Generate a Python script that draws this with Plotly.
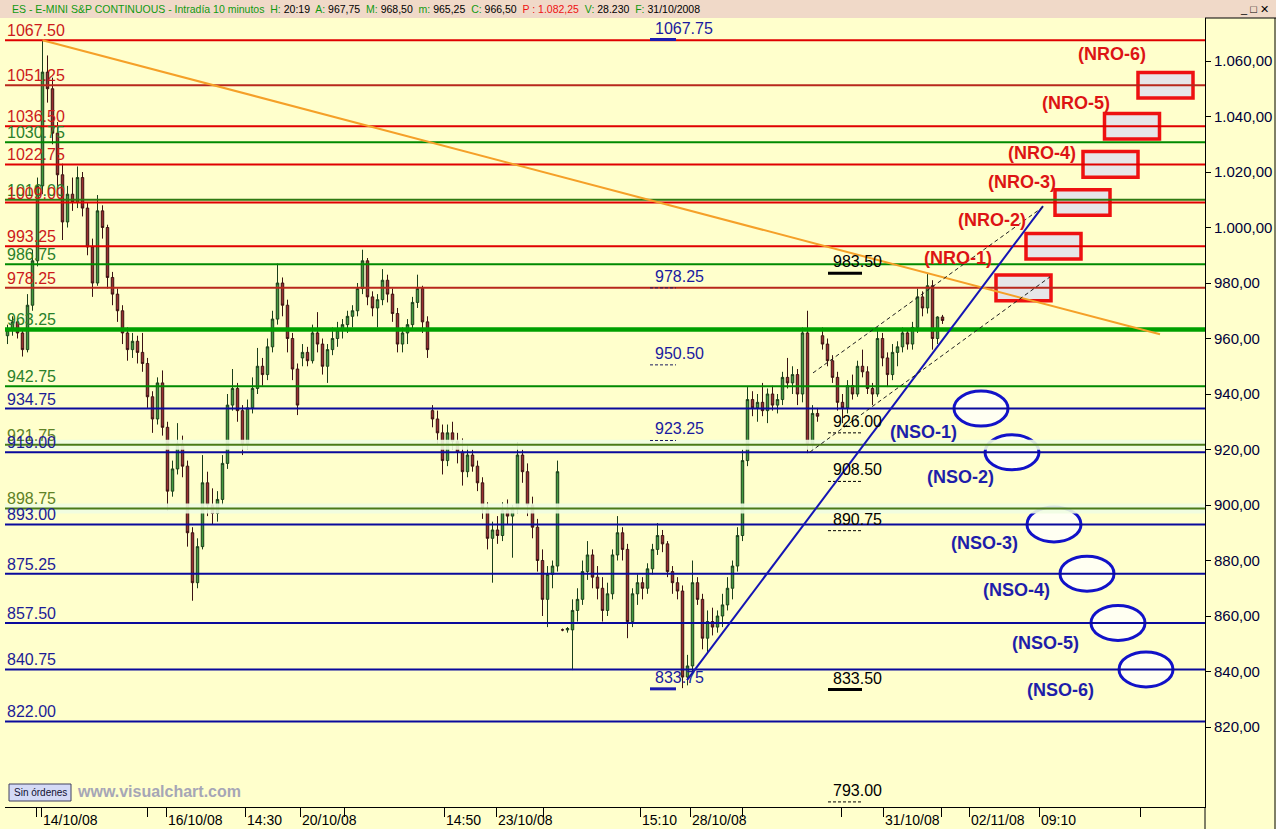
import plotly.graph_objects as go

# ---------------- data ----------------
open_prices = [
    961, 963, 966, 962, 956, 972, 988, 1015, 1056, 1050,
    1034, 1019, 1002, 1012, 1009, 1018, 1007, 993, 980, 1006,
    1000, 982, 976, 970, 962, 956, 959, 955, 951, 939,
    931, 944, 928, 905, 913, 922, 914, 890, 872, 885,
    908, 900, 897, 902, 915, 936, 942, 934, 922, 935,
    942, 950, 947, 957, 967, 980, 972, 960, 949, 953,
    955, 952, 962, 958, 950, 956, 960, 963, 965, 968,
    970, 978, 988, 975, 971, 974, 981, 976, 969, 958,
    962, 965, 973, 978, 966, 934, 931, 926, 916, 926,
    923, 919, 912, 918, 914, 908, 899, 888, 891, 889,
    898, 896, 899, 918, 912, 900, 892, 880, 866, 875,
    878, 855, 855, 855, 862, 866, 876, 882, 874, 870,
    862, 868, 882, 890, 884, 858, 868, 872, 870, 877,
    884, 889, 886, 876, 872, 869, 838, 842, 872, 866,
    852, 858, 856, 860, 864, 870, 878, 889, 916, 938,
    935, 937, 934, 940, 936, 938, 946, 944, 947, 940,
    962, 922, 933, 961, 958, 952, 946, 937, 935, 943,
    940, 950, 948, 942, 940, 960, 953, 947, 955, 957,
    962, 958, 964, 975, 971, 979, 960, 967.75,
]
high_prices = [
    965, 968, 967, 963, 976, 992, 1018, 1067.5, 1062, 1054,
    1038, 1023, 1015, 1018, 1022, 1020, 1009, 996, 1011.7, 1008,
    1001, 984, 978, 972, 964, 962, 961, 962, 953, 941,
    946, 948.5, 930, 916, 929.5, 925, 916, 892, 888, 918,
    912, 906, 905, 918, 940, 949, 944, 936, 938, 946,
    956.6, 953, 960, 970, 987, 982, 974, 962, 951, 958,
    957, 965, 969.5, 960, 958, 964, 966, 967, 970, 972,
    980, 992, 989, 977, 976, 985, 983, 978, 971, 964,
    967, 975, 983, 979, 968, 936, 934, 929, 929, 930,
    926, 924, 922, 920, 916, 910, 901, 894, 896, 901,
    902, 900, 922.7, 920, 915, 903, 895, 884, 878, 880,
    916, 855.5, 856, 866, 870, 880, 887, 884, 878, 874,
    872, 884, 896, 892, 886, 870, 875, 874, 879, 886,
    893.5, 891, 887, 878, 874, 871, 846, 880, 874, 868,
    862, 863, 862, 868, 874, 880, 892, 920, 942.5, 941,
    940, 944, 942, 943, 940, 948, 953, 950, 949, 964,
    970, 936, 935, 964, 960, 954, 948, 940, 945, 947,
    952, 956, 950, 944, 964, 962, 955, 958, 959, 964,
    963, 966, 978, 977, 983.6, 981, 968, 968.5,
]
low_prices = [
    958, 961, 960, 953.5, 955, 970, 986, 1012, 1045, 1030,
    1014, 995.5, 1000, 1006, 1007, 1004, 990, 975, 979, 996,
    978, 972, 966, 958, 952, 953, 951, 948, 935, 926,
    929, 925, 898, 903, 911, 910, 885, 865.5, 870, 884,
    896, 893, 894, 900, 913, 934, 930, 918, 920, 933,
    940, 943, 945, 955, 965, 968, 955, 945, 932.4, 950,
    950, 951, 955, 947, 944, 954, 957, 960, 962, 964,
    968, 976, 972, 968, 964, 972, 973, 966, 955, 955,
    958, 963, 971, 962, 953, 928, 922, 911, 914, 920,
    915, 907, 910, 912, 905, 895, 884, 872, 886, 887,
    893, 881, 897, 908, 896, 888, 876, 860, 856, 870,
    876, 854.5, 854, 840.5, 858, 864, 873, 870, 866, 858,
    860, 866, 880, 880, 852, 856, 864, 866, 868, 875,
    882, 883, 874, 868, 866, 834, 835, 840, 864, 848,
    847, 853, 854, 856, 862, 866, 876, 887, 914, 932,
    930, 932, 929.5, 934, 933, 936, 942, 940, 936, 937,
    918.7, 920, 930, 956, 950, 944, 934, 929.5, 933, 938,
    939, 946, 940, 936, 939, 950, 942.5, 945, 950, 955,
    956, 956, 962, 968, 969, 956, 958, 965.25,
]
close_prices = [
    963, 966, 962, 956, 972, 988, 1015, 1056, 1050, 1034,
    1019, 1002, 1012, 1009, 1018, 1007, 993, 980, 1006, 1000,
    982, 976, 970, 962, 956, 959, 955, 951, 939, 931,
    944, 928, 905, 913, 922, 914, 890, 872, 885, 908,
    900, 897, 902, 915, 936, 942, 934, 922, 935, 942,
    950, 947, 957, 967, 980, 972, 960, 949, 936, 955,
    952, 962, 958, 950, 956, 960, 963, 965, 968, 970,
    978, 988, 975, 971, 974, 981, 976, 969, 958, 962,
    965, 973, 978, 966, 956, 931, 926, 916, 926, 923,
    919, 912, 918, 914, 908, 899, 888, 891, 889, 898,
    896, 899, 918, 912, 900, 892, 880, 866, 875, 878,
    912, 855, 855.5, 862, 866, 876, 882, 874, 870, 862,
    868, 882, 890, 884, 858, 868, 872, 870, 877, 884,
    889, 886, 876, 872, 869, 838, 842, 872, 866, 852,
    858, 856, 860, 864, 870, 878, 889, 916, 938, 935,
    937, 934, 940, 936, 938, 946, 944, 947, 940, 962,
    922, 933, 932, 958, 952, 946, 937, 935, 943, 940,
    950, 948, 942, 940, 960, 953, 947, 955, 957, 962,
    958, 964, 975, 971, 979, 960, 967.75, 966.5,
]

red_levels = [1067.50, 1051.25, 1036.50, 1022.75, 1009.00, 993.25, 978.25]
green_levels = [1030.75, 1010.00, 986.75, 963.25, 942.75, 921.75, 898.75]
blue_levels = [934.75, 919.00, 893.00, 875.25, 857.50, 840.75, 822.00]

blue_marks = [1067.75, 978.25, 950.50, 923.25, 833.75]
blue_mark_solid = [True, False, False, False, True]
black_marks = [983.50, 926.00, 908.50, 890.75, 833.50, 793.00]
black_mark_solid = [True, False, False, False, True, False]

nro_names = ["(NRO-1)", "(NRO-2)", "(NRO-3)", "(NRO-4)", "(NRO-5)", "(NRO-6)"]
nro_levels = [978.25, 993.25, 1009.00, 1022.75, 1036.50, 1051.25]
nso_names = ["(NSO-1)", "(NSO-2)", "(NSO-3)", "(NSO-4)", "(NSO-5)", "(NSO-6)"]
nso_levels = [934.75, 919.00, 893.00, 875.25, 857.50, 840.75]

orange_trend_x = [7, 230.5]
orange_trend_y = [1067.50, 961.5]
blue_trend_x = [135.9, 207.1]
blue_trend_y = [836.9, 1007.7]
channel_upper_x = [161.1, 207.1]
channel_upper_y = [947.6, 1007.4]
channel_lower_x = [160.5, 208.5]
channel_lower_y = [919.1, 982.2]

y_tick_vals = [820, 840, 860, 880, 900, 920, 940, 960, 980, 1000, 1020, 1040, 1060]
y_tick_text = ["820,00", "840,00", "860,00", "880,00", "900,00", "920,00", "940,00",
               "960,00", "980,00", "1.000,00", "1.020,00", "1.040,00", "1.060,00"]
x_tick_vals = [5.7, 6.7, 27.9, 31.7, 47.5, 58.5, 67.3, 87.3, 97.7, 107.1,
               126.5, 136.5, 146.9, 166.7, 175.1, 186.7, 192.3, 206.3, 226.5]
x_tick_text = ["", "14/10/08", "", "16/10/08", "14:30", "20/10/08", "", "14:50", "23/10/08", "",
               "15:10", "28/10/08", "", "", "31/10/08", "", "02/11/08", "09:10", ""]

# ---------------- layout geometry ----------------
W, H = 1276, 829
ML, MR, MT, MB = 5, 71, 18, 22
X_RANGE = [-0.5, 239.5]
Y_RANGE = [791.17, 1075.5]
PW, PH = W - ML - MR, H - MT - MB
FONT = "Arial, 'Liberation Sans', sans-serif"
BG = "#FFFFCC"


def pxx(px):  # pixel -> paper x
    return (px - ML) / PW


def pxy(py):  # pixel -> paper y
    return (H - MB - py) / PH


fig = go.Figure()
annotations = []
shapes = []

# olive halos
for lv in green_levels[5:]:
    fig.add_trace(go.Scatter(x=X_RANGE, y=[lv, lv], mode="lines",
                             line=dict(color="rgba(240,253,226,0.9)", width=10),
                             hoverinfo="skip", showlegend=False))

red_line_colors = ["#E00000", "#B8281C", "#E00000", "#E00000", "#E00000", "#E00000", "#B8281C"]
green_line_colors = ["#008A00", "#2E7A10", "#008A00", "#00A000", "#008A00", "#4A7A18", "#4A7A18"]
green_widths = [2, 2, 2, 4.5, 2, 2, 2]
green_label_colors = ["#2A802A", "#2A802A", "#2A802A", "#2A802A", "#2A802A", "#5E8226", "#5E8226"]

for lv, c, w in zip(green_levels, green_line_colors, green_widths):
    fig.add_trace(go.Scatter(x=X_RANGE, y=[lv, lv], mode="lines", line=dict(color=c, width=w),
                             hoverinfo="skip", showlegend=False))
for lv, c in zip(red_levels, red_line_colors):
    fig.add_trace(go.Scatter(x=X_RANGE, y=[lv, lv], mode="lines", line=dict(color=c, width=2),
                             hoverinfo="skip", showlegend=False))
for lv in blue_levels:
    fig.add_trace(go.Scatter(x=X_RANGE, y=[lv, lv], mode="lines", line=dict(color="#0A0A9C", width=2),
                             hoverinfo="skip", showlegend=False))

# level labels (green first, then red, then blue on top)
for lv, c in zip(green_levels, green_label_colors):
    annotations.append(dict(xref="paper", yref="y", x=0, y=lv, xanchor="left", yanchor="bottom",
                            text=f"{lv:.2f}", showarrow=False, yshift=-1,
                            font=dict(family=FONT, size=16, color=c)))
for lv in red_levels:
    annotations.append(dict(xref="paper", yref="y", x=0, y=lv, xanchor="left", yanchor="bottom",
                            text=f"{lv:.2f}", showarrow=False, yshift=-1,
                            font=dict(family=FONT, size=16, color="#CC1A1A")))
for lv in blue_levels:
    annotations.append(dict(xref="paper", yref="y", x=0, y=lv, xanchor="left", yanchor="bottom",
                            text=f"{lv:.2f}", showarrow=False, yshift=-1,
                            font=dict(family=FONT, size=16, color="#1C1C96")))

# price marks (short segments with labels)
for lv, solid in zip(blue_marks, blue_mark_solid):
    fig.add_trace(go.Scatter(x=[128.5, 133.7], y=[lv, lv], mode="lines",
                             line=dict(color="#1A1AB0" if solid else "#1A1A60", width=3 if solid else 1,
                                       dash="solid" if solid else "3px,2px"),
                             hoverinfo="skip", showlegend=False))
    annotations.append(dict(x=129.0, y=lv, xanchor="left", yanchor="bottom", text=f"{lv:.2f}",
                            showarrow=False, yshift=1, font=dict(family=FONT, size=16, color="#1A1AA0")))
for lv, solid in zip(black_marks, black_mark_solid):
    fig.add_trace(go.Scatter(x=[164.1, 170.9], y=[lv, lv], mode="lines",
                             line=dict(color="#000000", width=3 if solid else 1,
                                       dash="solid" if solid else "3px,2px"),
                             hoverinfo="skip", showlegend=False))
    annotations.append(dict(x=164.6, y=lv, xanchor="left", yanchor="bottom", text=f"{lv:.2f}",
                            showarrow=False, yshift=1, font=dict(family=FONT, size=16, color="#000000")))

# candles
fig.add_trace(go.Candlestick(
    x=list(range(len(close_prices))), open=open_prices, high=high_prices,
    low=low_prices, close=close_prices,
    increasing=dict(line=dict(color="#1A3F1A", width=1), fillcolor="#449A40"),
    decreasing=dict(line=dict(color="#3A1212", width=1), fillcolor="#9A3030"),
    whiskerwidth=0, showlegend=False, hoverinfo="skip"))

# trend lines
fig.add_trace(go.Scatter(x=orange_trend_x, y=orange_trend_y, mode="lines",
                         line=dict(color="#F5A028", width=2), hoverinfo="skip", showlegend=False))
fig.add_trace(go.Scatter(x=blue_trend_x, y=blue_trend_y, mode="lines",
                         line=dict(color="#1414B4", width=2), hoverinfo="skip", showlegend=False))
for cx, cy in [(channel_upper_x, channel_upper_y), (channel_lower_x, channel_lower_y)]:
    fig.add_trace(go.Scatter(x=cx, y=cy, mode="lines",
                             line=dict(color="#202020", width=1, dash="4px,3px"),
                             hoverinfo="skip", showlegend=False))

# NRO boxes and labels
nro_box_cx = [203.2, 209.2, 215.0, 220.6, 224.9, 231.6]
nro_label_pos = [(190.1, 989.0), (196.9, 1002.7), (202.9, 1016.4), (206.9, 1026.8),
                 (213.7, 1044.9), (220.9, 1062.5)]
for name, lv, cx, (lx, ly) in zip(nro_names, nro_levels, nro_box_cx, nro_label_pos):
    shapes.append(dict(type="rect", xref="x", yref="y", x0=cx - 5.5, x1=cx + 5.5,
                       y0=lv - 4.6, y1=lv + 4.6, layer="below",
                       line=dict(color="#EE1111", width=3.5), fillcolor="#E6E6E8"))
    annotations.append(dict(x=lx, y=ly, text=f"<b>{name}</b>", showarrow=False,
                            font=dict(family=FONT, size=18, color="#DD1414")))

# NSO ellipses and labels
nso_cx = [194.7, 200.9, 209.3, 215.9, 222.1, 227.7]
nso_label_pos = [(183.1, 926.3), (190.5, 910.1), (195.3, 886.3), (201.7, 869.4),
                 (207.5, 850.3), (210.5, 833.3)]
for name, lv, cx, (lx, ly) in zip(nso_names, nso_levels, nso_cx, nso_label_pos):
    shapes.append(dict(type="circle", xref="x", yref="y", x0=cx - 5.4, x1=cx + 5.4,
                       y0=lv - 6.3, y1=lv + 6.3, layer="below",
                       line=dict(color="#1212C8", width=3), fillcolor="#FFFFF2"))
    annotations.append(dict(x=lx, y=ly, text=f"<b>{name}</b>", showarrow=False,
                            font=dict(family=FONT, size=18, color="#1E1EAA")))

# x tick labels (left aligned after tick)
for tv, tt in zip(x_tick_vals, x_tick_text):
    if tt:
        annotations.append(dict(x=tv, xref="x", yref="paper", y=0, xanchor="left", yanchor="middle",
                                yshift=-13, xshift=0, text=tt, showarrow=False,
                                font=dict(family=FONT, size=14, color="#000000")))

# title bar
shapes.append(dict(type="rect", xref="paper", yref="paper", x0=pxx(0), x1=pxx(W), y0=pxy(18), y1=pxy(0),
                   line=dict(width=0), fillcolor="#F0D9C8", layer="below"))
G = "#119911"
title_html = (f"<span style='color:{G}'>ES - E-MINI S&amp;P CONTINUOUS - Intradía 10 minutos&nbsp; H:</span> 20:19&nbsp; "
              f"<span style='color:{G}'>A:</span> 967,75&nbsp; <span style='color:{G}'>M:</span> 968,50&nbsp; "
              f"<span style='color:{G}'>m:</span> 965,25&nbsp; <span style='color:{G}'>C:</span> 966,50&nbsp; "
              f"<span style='color:#EE1111'>P : 1.082,25</span>&nbsp; <span style='color:{G}'>V:</span> 28.230&nbsp; "
              f"<span style='color:{G}'>F:</span> 31/10/2008")
annotations.append(dict(xref="paper", yref="paper", x=pxx(10), y=pxy(9), xanchor="left", yanchor="middle",
                        text=title_html, showarrow=False, font=dict(family=FONT, size=10.5, color="#000000")))
annotations.append(dict(xref="paper", yref="paper", x=pxx(1254), y=pxy(9), xanchor="center", yanchor="middle",
                        text="_ □ ✕", showarrow=False, font=dict(family=FONT, size=11, color="#000000")))

# right panel borders
shapes.append(dict(type="line", xref="paper", yref="paper", x0=1, x1=pxx(W), y0=1, y1=1,
                   line=dict(color="#000000", width=1)))
shapes.append(dict(type="line", xref="paper", yref="paper", x0=1, x1=1, y0=0, y1=pxy(H),
                   line=dict(color="#000000", width=1)))
shapes.append(dict(type="line", xref="paper", yref="paper", x0=pxx(W - 1), x1=pxx(W - 1), y0=1, y1=pxy(H),
                   line=dict(color="#000000", width=1)))

# "Sin órdenes" box + watermark
shapes.append(dict(type="rect", xref="paper", yref="paper", x0=pxx(9), x1=pxx(71), y0=pxy(801), y1=pxy(784),
                   line=dict(color="#404060", width=1), fillcolor="#D4DAF6"))
annotations.append(dict(xref="paper", yref="paper", x=pxx(40), y=pxy(792.5), xanchor="center", yanchor="middle",
                        text="Sin órdenes", showarrow=False, font=dict(family=FONT, size=10, color="#101030")))
annotations.append(dict(xref="paper", yref="paper", x=pxx(75), y=pxy(791), xanchor="left", yanchor="middle",
                        text="<b>www.visualchart.com</b>", showarrow=False,
                        font=dict(family=FONT, size=16, color="#A6A6B6")))

fig.update_layout(
    width=W, height=H,
    margin=dict(l=ML, r=MR, t=MT, b=MB, pad=0),
    paper_bgcolor=BG, plot_bgcolor=BG,
    showlegend=False,
    annotations=annotations, shapes=shapes,
    xaxis=dict(range=X_RANGE, showgrid=False, zeroline=False, showline=True, linecolor="#000000",
               linewidth=1, ticks="outside", ticklen=9, tickcolor="#000000", tickwidth=1,
               tickvals=x_tick_vals, ticktext=[""] * len(x_tick_vals), showticklabels=True,
               rangeslider=dict(visible=False), fixedrange=True),
    yaxis=dict(range=Y_RANGE, side="right", showgrid=False, zeroline=False, showline=True,
               linecolor="#000000", linewidth=1, ticks="outside", ticklen=5, tickcolor="#000000",
               tickvals=y_tick_vals, ticktext=y_tick_text,
               tickfont=dict(family=FONT, size=15, color="#00003A"), fixedrange=True),
)

fig.write_html("out.html", config={"displayModeBar": False},
               post_script="document.body.style.margin='0';document.body.style.overflow='hidden';")
